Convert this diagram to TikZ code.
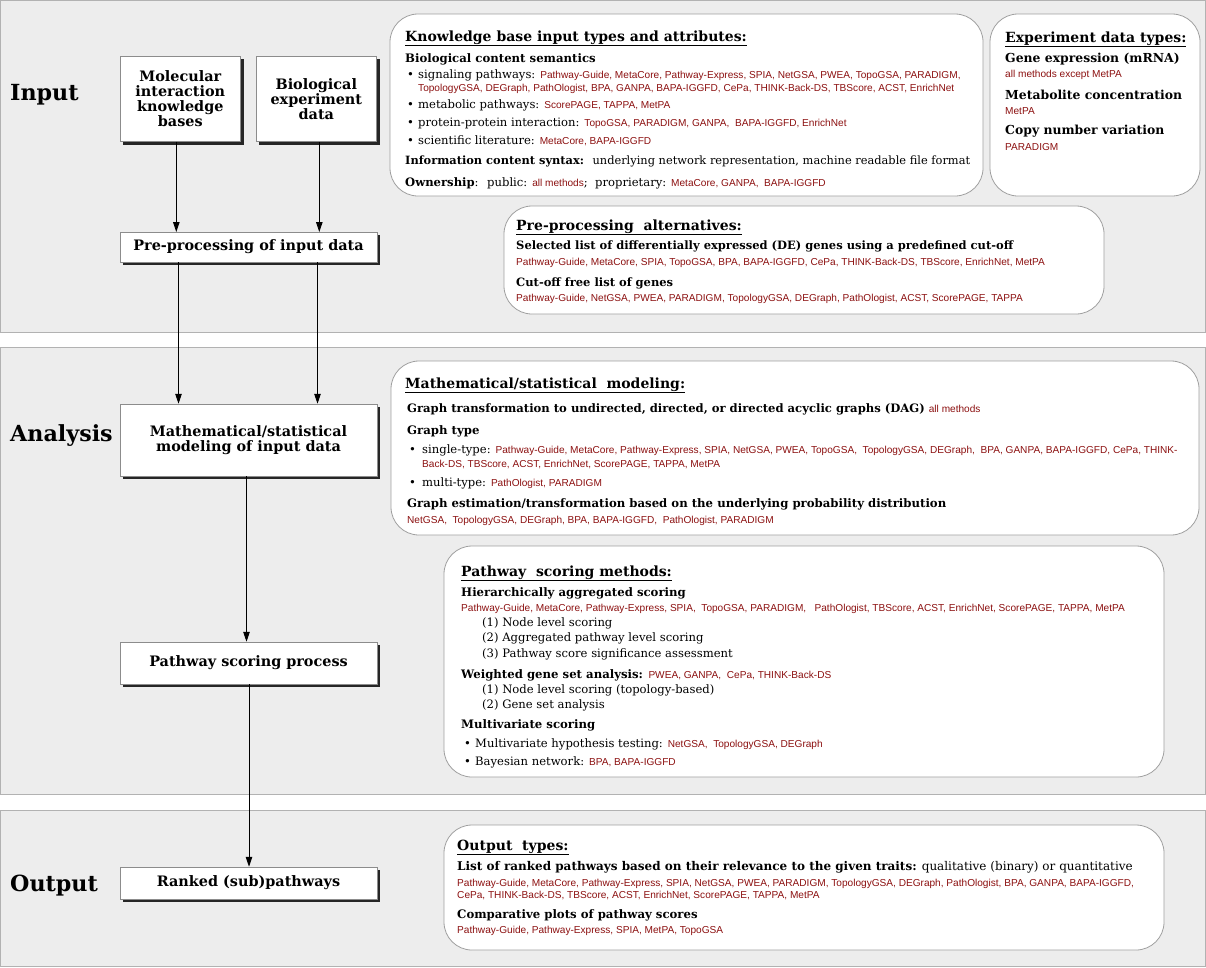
\documentclass[tikz,border=0pt]{standalone}
\usepackage{fontspec}
\setmainfont{DejaVu Serif}
\setsansfont{Liberation Sans}
\usetikzlibrary{arrows.meta,shadows}
\definecolor{mred}{RGB}{140,16,16}
\definecolor{bandgray}{RGB}{237,237,237}
\definecolor{bandline}{RGB}{178,178,178}
\definecolor{panelline}{RGB}{160,160,160}
\newcommand\rd[1]{{\sffamily\mdseries\fontsize{10.1}{11}\selectfont\color{mred}#1}}
\begin{document}
\begin{tikzpicture}[x=1pt,y=-1pt,
  band/.style={fill=bandgray,draw=bandline,line width=1pt},
  panel/.style={fill=white,draw=panelline,line width=0.8pt,rounded corners=28pt},
  tx/.style={anchor=base west,inner sep=0pt,font=\fontsize{11.6}{13}\selectfont},
  txb/.style={anchor=base west,inner sep=0pt,font=\bfseries\fontsize{11.7}{13}\selectfont},
  txe/.style={anchor=base west,inner sep=0pt,font=\bfseries\fontsize{12.4}{14}\selectfont},
  hd/.style={anchor=base west,inner sep=0pt,font=\bfseries\fontsize{14}{16}\selectfont},
  rl/.style={anchor=base west,inner sep=0pt,font=\sffamily\fontsize{10.1}{11}\selectfont,text=mred},
  lab/.style={anchor=base west,inner sep=0pt,font=\bfseries\fontsize{22.2}{26}\selectfont},
  proc/.style={draw=black!45,fill=white,line width=0.5pt,align=center,inner sep=0pt,
    font=\bfseries\fontsize{14.4}{15}\selectfont,
    drop shadow={shadow xshift=3pt,shadow yshift=-3pt,fill=black!85,opacity=1}},
  arr/.style={-{Triangle[length=10pt,width=6.5pt]},line width=0.9pt}]
\useasboundingbox (0,0) rectangle (1206,967);
% bands
\draw[band] (0.5,0.5) rectangle (1205.5,332.5);
\draw[band] (0.5,347) rectangle (1205.5,794);
\draw[band] (0.5,810) rectangle (1205.5,966.5);
% left labels
\node[lab] (linput) at (10,100) {Input};
\node[lab] (lanal) at (10,441) {Analysis};
\node[lab] (lout) at (10,891) {Output};
% process boxes
\node[proc,minimum width=120.5pt,minimum height=85.5pt] (mol) at (180.3,98.8) {Molecular\\interaction\\knowledge\\bases};
\node[proc,minimum width=120.5pt,minimum height=85.5pt] (bio) at (316.3,98.8) {Biological\\experiment\\data};
\node[proc,minimum width=257pt,minimum height=29.5pt] (pre) at (248.5,247) {Pre-processing of input data};
\node[proc,minimum width=257pt,minimum height=72pt] (math) at (248.5,440) {Mathematical/statistical\\modeling of input data};
\node[proc,minimum width=257pt,minimum height=42pt] (score) at (248.5,663) {Pathway scoring process};
\node[proc,minimum width=257pt,minimum height=32pt] (rank) at (248.5,883) {Ranked (sub)pathways};
% arrows
\draw[arr] ([xshift=-4pt]mol.south) -- ([xshift=-4pt]mol.south |- pre.north);
\draw[arr] ([xshift=3pt]bio.south) -- ([xshift=3pt]bio.south |- pre.north);
\draw[arr] ([xshift=-70pt]pre.south) -- ([xshift=-70pt]pre.south |- math.north);
\draw[arr] ([xshift=69pt]pre.south) -- ([xshift=69pt]pre.south |- math.north);
\draw[arr] ([xshift=-2pt]math.south) -- ([xshift=-2pt]math.south |- score.north);
\draw[arr] ([xshift=0.5pt]score.south) -- ([xshift=0.5pt]score.south |- rank.north);
% panels
\draw[panel] (390,14) rectangle (983,196);
\draw[panel] (990,14) rectangle (1200,196);
\draw[panel] (504,206) rectangle (1104,314);
\draw[panel] (391,361) rectangle (1199,535);
\draw[panel] (444,546) rectangle (1164,777);
\draw[panel] (444,825) rectangle (1164,950);
% knowledge panel
\node[hd] (kh) at (405,41) {\underline{Knowledge base input types and attributes:}};
\node[txb] (k1) at (405,62) {Biological content semantics};
\node[tx] (kb1) at (407,78) {\textbullet};
\node[tx] (k2) at (418,78) {signaling pathways: \rd{Pathway-Guide, MetaCore, Pathway-Express, SPIA, NetGSA, PWEA, TopoGSA, PARADIGM,}};
\node[rl] (k3) at (418,91) {TopologyGSA, DEGraph, PathOlogist, BPA, GANPA, BAPA-IGGFD, CePa, THINK-Back-DS, TBScore, ACST, EnrichNet};
\node[tx] (kb2) at (407,108) {\textbullet};
\node[tx] (k4) at (418,108) {metabolic pathways: \rd{ScorePAGE, TAPPA, MetPA}};
\node[tx] (kb3) at (407,126) {\textbullet};
\node[tx] (k5) at (418,126) {protein-protein interaction: \rd{TopoGSA, PARADIGM, GANPA, \ BAPA-IGGFD, EnrichNet}};
\node[tx] (kb4) at (407,144) {\textbullet};
\node[tx] (k6) at (418,144) {scientific literature: \rd{MetaCore, BAPA-IGGFD}};
\node[tx,font=\fontsize{11.4}{13}\selectfont] (k7) at (405,164) {\textbf{Information content syntax:} \ underlying network representation, machine readable file format};
\node[tx] (k8) at (405,186) {\textbf{Ownership}: \ public: \rd{all methods}; \ proprietary: \rd{MetaCore, GANPA, \ BAPA-IGGFD}};
% experiment panel
\node[hd] (eh) at (1005,42) {\underline{Experiment data types:}};
\node[txe] (e1) at (1005,62) {Gene expression (mRNA)};
\node[rl] (e2) at (1005,77) {all methods except MetPA};
\node[txe] (e3) at (1005,99) {Metabolite concentration};
\node[rl] (e4) at (1005,114) {MetPA};
\node[txe] (e5) at (1005,134) {Copy number variation};
\node[rl] (e6) at (1005,150) {PARADIGM};
% pre-processing alternatives
\node[hd] (ph) at (516,230) {\underline{Pre-processing\ \ alternatives:}};
\node[txb,font=\bfseries\fontsize{11.5}{13}\selectfont] (p1) at (516,249) {Selected list of differentially expressed (DE) genes using a predefined cut-off};
\node[rl] (p2) at (516,265) {Pathway-Guide, MetaCore, SPIA, TopoGSA, BPA, BAPA-IGGFD, CePa, THINK-Back-DS, TBScore, EnrichNet, MetPA};
\node[txb,font=\bfseries\fontsize{11.5}{13}\selectfont] (p3) at (516,286) {Cut-off free list of genes};
\node[rl] (p4) at (516,301) {Pathway-Guide, NetGSA, PWEA, PARADIGM, TopologyGSA, DEGraph, PathOlogist, ACST, ScorePAGE, TAPPA};
% math panel
\node[hd] (mh) at (405,388) {\underline{Mathematical/statistical\ \ modeling:}};
\node[txb,font=\bfseries\fontsize{11.6}{13}\selectfont] (m1) at (407,412) {Graph transformation to undirected, directed, or directed acyclic graphs (DAG) \rd{all methods}};
\node[txb] (m2) at (407,434) {Graph type};
\node[tx] (mb1) at (409,453) {\textbullet};
\node[tx] (m3) at (422,453) {single-type: \rd{Pathway-Guide, MetaCore, Pathway-Express, SPIA, NetGSA, PWEA, TopoGSA, \ TopologyGSA, DEGraph, \ BPA, GANPA, BAPA-IGGFD, CePa, THINK-}};
\node[rl] (m4) at (422,467) {Back-DS, TBScore, ACST, EnrichNet, ScorePAGE, TAPPA, MetPA};
\node[tx] (mb2) at (409,486) {\textbullet};
\node[tx] (m5) at (422,486) {multi-type: \rd{PathOlogist, PARADIGM}};
\node[txb] (m6) at (407,507) {Graph estimation/transformation based on the underlying probability distribution};
\node[rl] (m7) at (407,523) {NetGSA, \ TopologyGSA, DEGraph, BPA, BAPA-IGGFD, \ PathOlogist, PARADIGM};
% scoring panel
\node[hd] (sh) at (461,576) {\underline{Pathway\ \ scoring methods:}};
\node[txb] (s1) at (461,596) {Hierarchically aggregated scoring};
\node[rl] (s2) at (461,611) {Pathway-Guide, MetaCore, Pathway-Express, SPIA, \ TopoGSA, PARADIGM, \ \ PathOlogist, TBScore, ACST, EnrichNet, ScorePAGE, TAPPA, MetPA};
\node[tx] (s3) at (482,626) {(1) Node level scoring};
\node[tx] (s4) at (482,641) {(2) Aggregated pathway level scoring};
\node[tx] (s5) at (482,657) {(3) Pathway score significance assessment};
\node[txb] (s6) at (461,678) {Weighted gene set analysis: \rd{PWEA, GANPA, \ CePa, THINK-Back-DS}};
\node[tx] (s7) at (482,693) {(1) Node level scoring (topology-based)};
\node[tx] (s8) at (482,708) {(2) Gene set analysis};
\node[txb] (s9) at (461,728) {Multivariate scoring};
\node[tx] (sb1) at (464,747) {\textbullet};
\node[tx] (s10) at (475,747) {Multivariate hypothesis testing: \rd{NetGSA, \ TopologyGSA, DEGraph}};
\node[tx] (sb2) at (464,765) {\textbullet};
\node[tx] (s11) at (475,765) {Bayesian network: \rd{BPA, BAPA-IGGFD}};
% output panel
\node[hd] (oh) at (457,850) {\underline{Output\ \ types:}};
\node[tx,font=\fontsize{12}{13}\selectfont] (o1) at (457,870) {\textbf{List of ranked pathways based on their relevance to the given traits:} qualitative (binary) or quantitative};
\node[rl] (o2) at (457,886) {Pathway-Guide, MetaCore, Pathway-Express, SPIA, NetGSA, PWEA, PARADIGM, TopologyGSA, DEGraph, PathOlogist, BPA, GANPA, BAPA-IGGFD,};
\node[rl] (o3) at (457,898) {CePa, THINK-Back-DS, TBScore, ACST, EnrichNet, ScorePAGE, TAPPA, MetPA};
\node[txb] (o4) at (457,918) {Comparative plots of pathway scores};
\node[rl] (o5) at (457,933) {Pathway-Guide, Pathway-Express, SPIA, MetPA, TopoGSA};
\end{tikzpicture}
\end{document}
